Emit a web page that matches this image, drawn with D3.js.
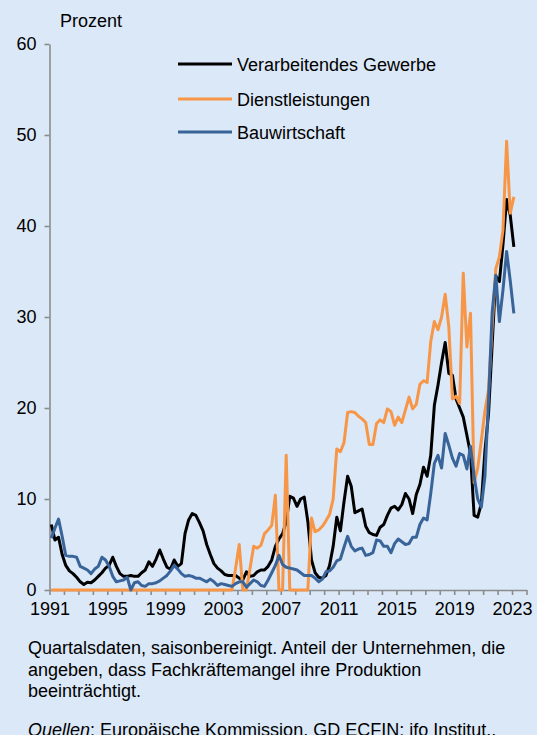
<!DOCTYPE html>
<html>
<head>
<meta charset="utf-8">
<script src="https://cdn.jsdelivr.net/npm/d3@7"></script>
<style>
  html, body { margin: 0; padding: 0; background: #dbe8f7; }
  svg { display: block; }
  text { font-family: Arial, "Liberation Sans", sans-serif; }
</style>
</head>
<body>
<svg id="chart" width="537" height="735"></svg>
<script>
// ---------------- DATA (quarterly, 1991Q1 .. 2023Q1) ----------------
const startYear = 1991;
const manufacturing = [
  7.2, 5.5, 5.8, 3.9, 2.7, 2.1, 1.8, 1.4, 0.9, 0.6, 0.85, 0.8, 1.1, 1.5, 1.9, 2.4,
  2.7, 3.6, 2.6, 1.8, 1.5, 1.5, 1.6, 1.5, 1.5, 1.9, 2.2, 3.1, 2.6, 3.4, 4.4, 3.4,
  2.5, 2.3, 3.3, 2.6, 2.9, 6.2, 7.7, 8.4, 8.2, 7.4, 6.5, 5.0, 3.9, 2.9, 2.4, 2.1,
  1.7, 1.6, 1.6, 1.6, 1.3, 1.1, 2.0, 1.5, 1.6, 2.0, 2.2, 2.2, 2.6, 3.3, 4.8, 5.6,
  6.2, 7.5, 10.3, 10.1, 9.2, 10.0, 10.2, 7.5, 3.3, 1.9, 1.4, 1.3, 1.6, 2.7, 4.8, 8.0,
  6.5, 9.7, 12.5, 11.4, 8.5, 8.7, 8.9, 7.0, 6.3, 6.1, 6.0, 6.9, 7.2, 8.2, 9.0, 9.2,
  8.8, 9.4, 10.6, 10.0, 8.4, 10.5, 11.6, 13.5, 12.5, 14.8, 20.3, 22.5, 25.0, 27.2, 23.8, 23.6,
  21.0, 20.0, 19.0, 17.0, 15.0, 8.2, 8.0, 9.5, 15.3, 19.4, 27.0, 34.5, 33.9, 38.0, 42.9, 41.2,
  37.7
];
const services = [
  0, 0, 0, 0, 0, 0, 0, 0, 0, 0, 0, 0, 0, 0, 0, 0,
  0, 0, 0, 0, 0, 0, 0, 0, 0, 0, 0, 0, 0, 0, 0, 0,
  0, 0, 0, 0, 0, 0, 0, 0, 0, 0, 0, 0, 0, 0, 0, 0,
  0, 0, 0, 2.4, 5.0, 0, 0, 2.4, 4.8, 4.6, 4.9, 6.2, 6.6, 7.1, 10.4, 0,
  0, 14.8, 0, 0, 0, 0, 0, 0, 7.9, 6.4, 6.6, 7.0, 7.6, 8.3, 10.0, 15.5,
  15.2, 16.2, 19.5, 19.6, 19.5, 19.1, 18.8, 18.4, 16.0, 16.0, 18.3, 18.7, 18.4, 19.9, 19.6, 18.1,
  19.0, 18.4, 19.8, 21.2, 19.9, 20.4, 22.6, 23.0, 22.8, 27.3, 29.5, 28.6, 30.0, 32.5, 28.9, 21.0,
  21.3, 20.5, 34.8, 26.7, 30.4, 11.8, 13.4, 16.4, 19.7, 22.0, 29.0, 35.3, 36.6, 39.6, 49.3, 41.4,
  43.2
];
const construction = [
  5.7, 6.8, 7.8, 5.9, 3.8, 3.7, 3.7, 3.6, 2.6, 2.4, 2.2, 1.8, 2.3, 2.6, 3.6, 3.3,
  2.6, 1.5, 0.9, 1.0, 1.1, 1.4, 0, 0.8, 0.9, 0.5, 0.4, 0.7, 0.7, 0.8, 1.0, 1.3,
  1.6, 2.1, 2.7, 2.3, 1.8, 1.5, 1.6, 1.5, 1.3, 1.3, 1.1, 0.9, 1.2, 0.9, 0.5, 0.7,
  0.6, 0.5, 0.4, 0.7, 0.9, 0.9, 0.3, 0.7, 1.1, 0.9, 0.5, 0.4, 1.1, 1.9, 2.7, 3.8,
  2.8, 2.5, 2.4, 2.3, 2.2, 1.9, 1.6, 1.6, 1.6, 1.3, 0.9, 1.2, 2.0, 2.1, 2.5, 3.2,
  3.4, 4.7, 5.9, 4.8, 4.3, 4.5, 4.6, 3.8, 3.9, 4.1, 5.5, 5.4, 4.8, 4.8, 4.1, 5.1,
  5.6, 5.3, 5.0, 5.1, 5.8, 5.8, 7.2, 7.9, 7.7, 10.6, 13.9, 14.8, 13.4, 17.2, 15.9, 14.5,
  13.6, 15.0, 14.8, 13.3, 15.8, 12.5, 10.0, 9.1, 12.5, 21.0, 30.5, 34.6, 29.5, 33.0, 37.2, 34.0,
  30.4
];
const seriesNames = ["Verarbeitendes Gewerbe", "Dienstleistungen", "Bauwirtschaft"];
const xTickLabels = ["1991", "1995", "1999", "2003", "2007", "2011", "2015", "2019", "2023"];
const yTickValues = [0, 10, 20, 30, 40, 50, 60];
const yUnit = "Prozent";
const noteLines = [
  "Quartalsdaten, saisonbereinigt. Anteil der Unternehmen, die",
  "angeben, dass Fachkräftemangel ihre Produktion",
  "beeinträchtigt."
];
const sourceLabel = "Quellen";
const sourceText = ": Europäische Kommission, GD ECFIN; ifo Institut.,";

// quarter categories
const quarters = manufacturing.map((_, i) => ({ year: startYear + Math.floor(i / 4), q: (i % 4) + 1, i }));

// ---------------- CHART ----------------
const svg = d3.select("#chart");
const colors = ["#000000", "#f79646", "#38649a"];
const axisColor = "#8c8c8c";

svg.append("rect").attr("width", 537).attr("height", 735).attr("fill", "#dbe8f7");

const x = d3.scaleLinear().domain([1991, 2024]).range([49.5, 526.5]);
const y = d3.scaleLinear().domain([0, 60]).range([590, 44]);
const xPos = d => x(d.year + (d.q - 1) / 4 + 0.125);

// Y axis
const yAxis = svg.append("g")
  .attr("transform", "translate(49.5,0)")
  .call(d3.axisLeft(y).tickValues(yTickValues).tickSize(5).tickSizeOuter(0).tickPadding(8).tickFormat(d3.format("d")));
yAxis.select(".domain").attr("stroke", axisColor).attr("stroke-width", 1.6);
yAxis.selectAll(".tick line").attr("stroke", axisColor).attr("stroke-width", 1.6);
yAxis.selectAll(".tick text").attr("font-size", 18).attr("fill", "#000")
  .attr("font-family", "Arial, 'Liberation Sans', sans-serif");

// X axis
const yearTicks = d3.range(1991, 2025);
const xAxis = svg.append("g")
  .attr("transform", "translate(0,590)")
  .call(d3.axisBottom(x).tickValues(yearTicks).tickSize(5).tickSizeOuter(0).tickPadding(7)
    .tickFormat(d => xTickLabels.includes(String(d)) ? String(d) : ""));
xAxis.select(".domain").attr("stroke", axisColor).attr("stroke-width", 1.6);
xAxis.selectAll(".tick line").attr("stroke", axisColor).attr("stroke-width", 1.6);
xAxis.selectAll(".tick text").attr("font-size", 18).attr("fill", "#000")
  .attr("font-family", "Arial, 'Liberation Sans', sans-serif");

// Unit label
svg.append("text").attr("x", 60).attr("y", 27).attr("font-size", 18).attr("fill", "#000").text(yUnit);

// Lines
const allSeries = [manufacturing, services, construction];
const line = d3.line().x((v, i) => xPos(quarters[i])).y(v => y(v));
allSeries.forEach((s, k) => {
  svg.append("path")
    .attr("d", line(s))
    .attr("fill", "none")
    .attr("stroke", colors[k])
    .attr("stroke-width", 3)
    .attr("stroke-linejoin", "round")
    .attr("stroke-linecap", "butt");
});

// Legend
const legendY = [64, 99, 132];
seriesNames.forEach((name, k) => {
  svg.append("line").attr("x1", 178).attr("x2", 232).attr("y1", legendY[k]).attr("y2", legendY[k])
    .attr("stroke", colors[k]).attr("stroke-width", 3);
  svg.append("text").attr("x", 237).attr("y", legendY[k] + 6.5).attr("font-size", 18).attr("fill", "#000").text(name);
});

// Footnote
noteLines.forEach((t, k) => {
  svg.append("text").attr("x", 28).attr("y", 654 + k * 21.5).attr("font-size", 18).attr("fill", "#000").text(t);
});
const src = svg.append("text").attr("x", 28).attr("y", 736).attr("font-size", 18).attr("fill", "#000");
src.append("tspan").attr("font-style", "italic").text(sourceLabel);
src.append("tspan").text(sourceText);
</script>
</body>
</html>
